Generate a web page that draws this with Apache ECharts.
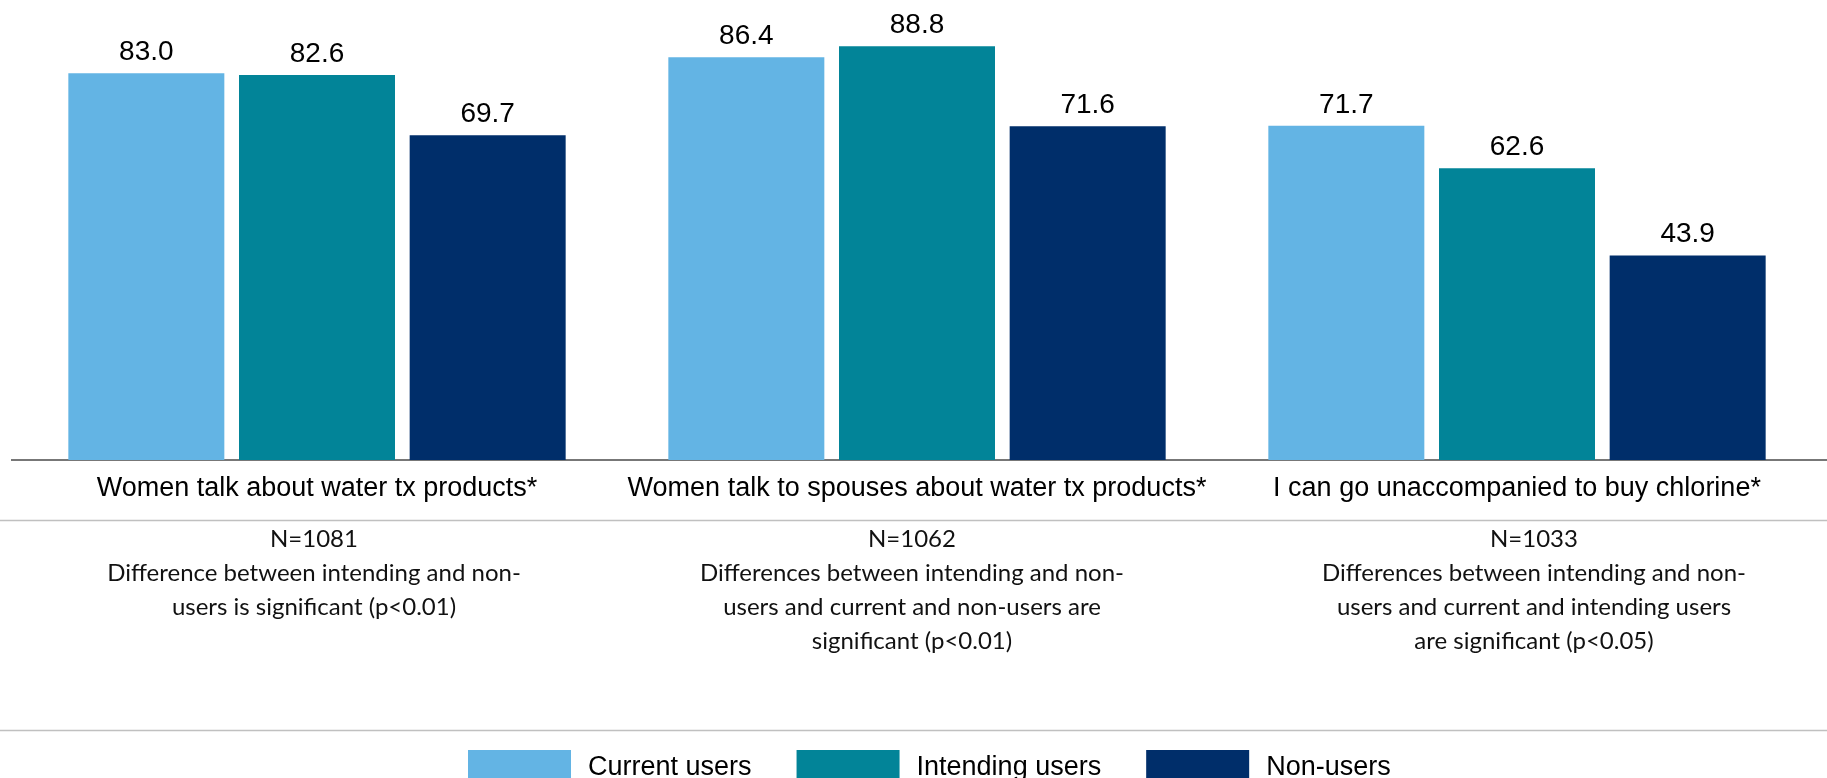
<!DOCTYPE html>
<html>
<head>
<meta charset="utf-8">
<title>Women's communication and mobility by user group</title>
<script src="https://cdn.jsdelivr.net/npm/echarts@6/dist/echarts.min.js"></script>
<style>
  html, body { margin: 0; padding: 0; background: #ffffff; }
  #chart { width: 1827px; height: 778px; }
</style>
</head>
<body>
<div id="chart"></div>
<script>
// Statements shown along the category axis
const categories = [
  'Women talk about water tx products*',
  'Women talk to spouses about water tx products*',
  'I can go unaccompanied to buy chlorine*'
];

// Percent agreeing, by user group
const currentUsers   = [83.0, 86.4, 71.7];
const intendingUsers = [82.6, 88.8, 62.6];
const nonUsers       = [69.7, 71.6, 43.9];

const seriesNames = ['Current users', 'Intending users', 'Non-users'];

// Sample sizes and significance notes under each statement
const notes = [
  ['N=1081', 'Difference between intending and non-', 'users is significant (p<0.01)'],
  ['N=1062', 'Differences between intending and non-', 'users and current and non-users are', 'significant (p<0.01)'],
  ['N=1033', 'Differences between intending and non-', 'users and current and intending users', 'are significant (p<0.05)']
];

const colors = ['#63B4E4', '#028498', '#002E6A'];
const noteCenters = [314, 912, 1534];

const chart = echarts.init(document.getElementById('chart'), null, { renderer: 'canvas' });

function barSeries(name, data, color) {
  return {
    name: name,
    type: 'bar',
    data: data,
    barWidth: 156,
    barGap: '9.4%',
    itemStyle: { color: color },
    label: {
      show: true,
      position: 'top',
      distance: 7,
      color: '#000000',
      fontFamily: 'Liberation Sans, Arial, sans-serif',
      fontSize: 28,
      formatter: p => p.value.toFixed(1)
    },
    emphasis: { disabled: true }
  };
}

const graphics = [
  // baseline of the bars
  { type: 'line', shape: { x1: 11, y1: 460, x2: 1827, y2: 460 },
    style: { stroke: '#4a4a4a', lineWidth: 1.5 }, silent: true },
  // divider between statements and notes
  { type: 'line', shape: { x1: 0, y1: 520.5, x2: 1827, y2: 520.5 },
    style: { stroke: '#c0c0c0', lineWidth: 1.5 }, silent: true },
  // divider above the legend
  { type: 'line', shape: { x1: 0, y1: 730.5, x2: 1827, y2: 730.5 },
    style: { stroke: '#c0c0c0', lineWidth: 1.5 }, silent: true }
];

notes.forEach((lines, i) => {
  graphics.push({
    type: 'text',
    x: noteCenters[i],
    y: 522,
    silent: true,
    style: {
      text: lines.join('\n'),
      fill: '#111111',
      fontFamily: 'Lato, sans-serif',
      fontSize: 24,
      lineHeight: 34,
      align: 'center',
      verticalAlign: 'top'
    }
  });
});

const option = {
  backgroundColor: '#ffffff',
  animation: false,
  color: colors,
  grid: { left: 17, right: 10, top: 0, bottom: 318, containLabel: false },
  legend: {
    data: seriesNames,
    left: 468,
    top: 750,
    padding: 0,
    itemGap: 45,
    itemWidth: 103,
    itemHeight: 36,
    icon: 'rect',
    selectedMode: false,
    textStyle: {
      color: '#000000',
      fontFamily: 'Liberation Sans, Arial, sans-serif',
      fontSize: 27,
      padding: [0, 0, 0, 12]
    }
  },
  xAxis: {
    type: 'category',
    data: categories,
    axisLine: { show: false },
    axisTick: { show: false },
    axisLabel: {
      interval: 0,
      margin: 15,
      color: '#000000',
      fontFamily: 'Liberation Sans, Arial, sans-serif',
      fontSize: 27
    }
  },
  yAxis: {
    type: 'value',
    min: 0,
    max: 98.7,
    show: false,
    splitLine: { show: false }
  },
  series: [
    barSeries(seriesNames[0], currentUsers, colors[0]),
    barSeries(seriesNames[1], intendingUsers, colors[1]),
    barSeries(seriesNames[2], nonUsers, colors[2])
  ],
  graphic: graphics
};

chart.setOption(option);
</script>
</body>
</html>
